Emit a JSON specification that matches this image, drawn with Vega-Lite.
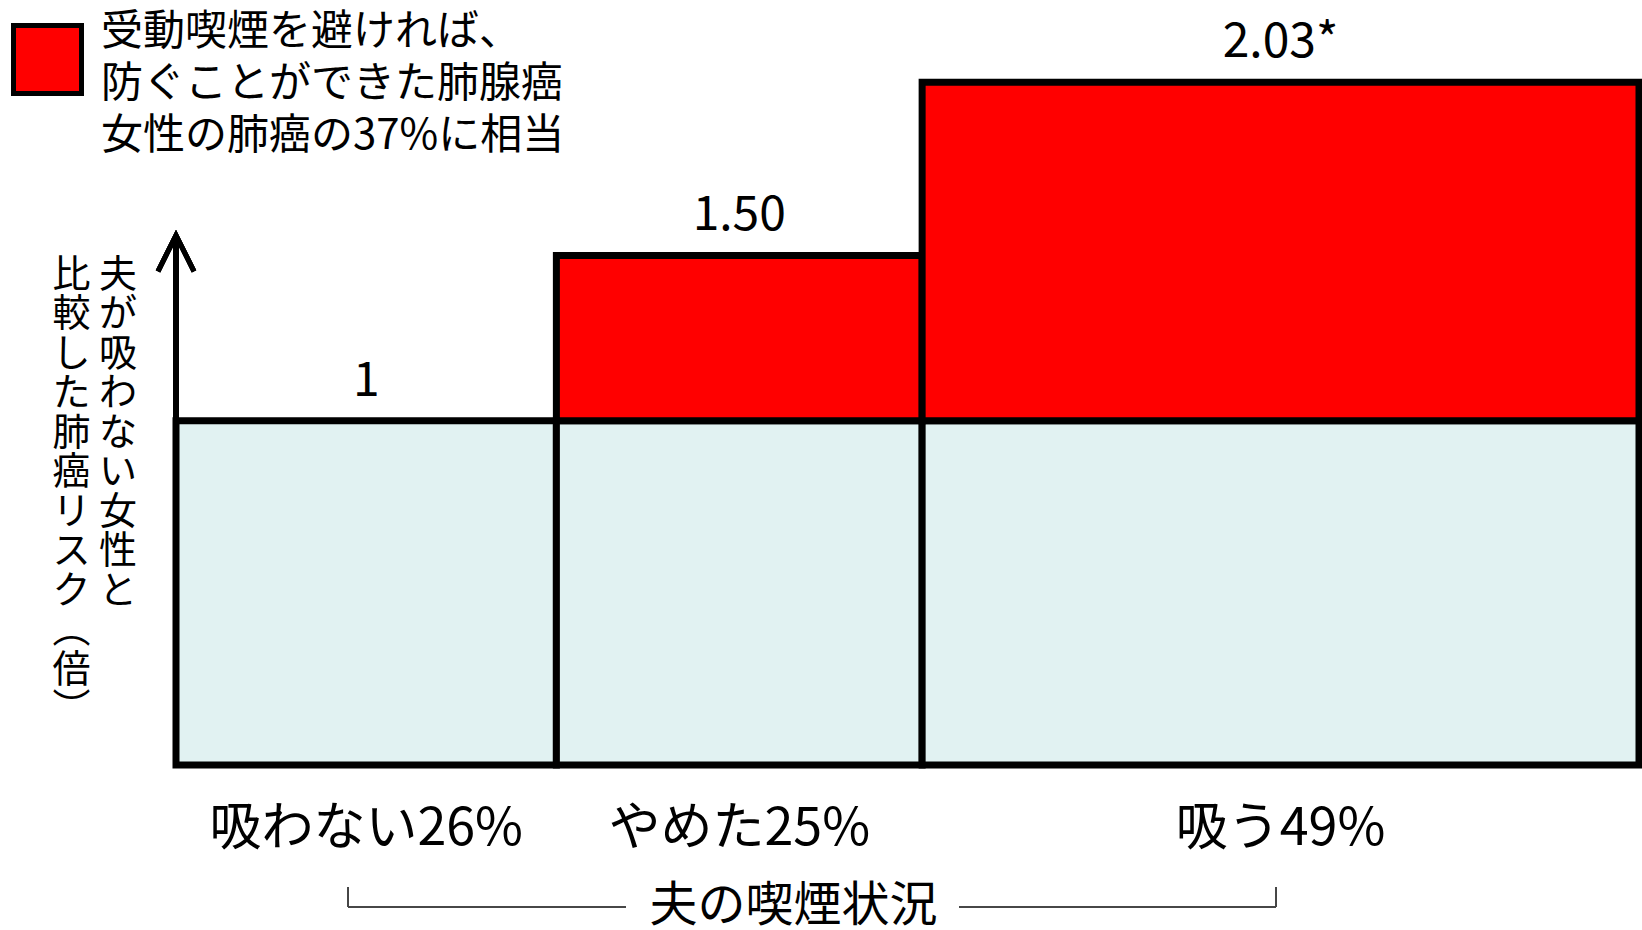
{
  "$schema": "https://vega.github.io/schema/vega-lite/v6.json",
  "width": 1463,
  "height": 738,
  "autosize": {"type": "none"},
  "padding": {"left": 176, "top": 27, "right": 3, "bottom": 165},
  "background": "white",
  "config": {
    "view": {"stroke": null},
    "font": "Noto Sans CJK JP"
  },
  "data": {"values": [
    {"status": "吸わない", "x0": 0, "x1": 26, "ref": 1, "risk": 1, "riskLabel": "1", "label": "吸わない26%", "area": "受動喫煙を避ければ、\n防ぐことができた肺腺癌\n女性の肺癌の37%に相当"},
    {"status": "やめた", "x0": 26, "x1": 51, "ref": 1, "risk": 1.5, "riskLabel": "1.50", "label": "やめた25%", "area": "受動喫煙を避ければ、\n防ぐことができた肺腺癌\n女性の肺癌の37%に相当"},
    {"status": "吸う", "x0": 51, "x1": 100, "ref": 1, "risk": 2.03, "riskLabel": "2.03*", "label": "吸う49%", "area": "受動喫煙を避ければ、\n防ぐことができた肺腺癌\n女性の肺癌の37%に相当"}
  ]},
  "layer": [
    {
      "mark": {"type": "rect", "fill": "#e1f2f2", "stroke": "black", "strokeWidth": 7, "strokeJoin": "miter"},
      "encoding": {
        "x": {"field": "x0", "type": "quantitative", "scale": {"domain": [0, 100], "nice": false, "zero": false},
              "axis": {"title": "夫の喫煙状況", "domain": false, "ticks": false, "labels": false, "grid": false, "titleColor": "black", "titleFontWeight": "normal", "titleFontSize": 48, "titleX": 617, "titleY": 141, "titleBaseline": "middle", "titleAlign": "center"}},
        "x2": {"field": "x1"},
        "y": {"field": "ref", "type": "quantitative", "scale": {"type": "pow", "exponent": 0.967, "domain": [0, 2.2], "nice": false},
              "axis": {"title": ["比    夫", "較    が", "し    吸", "た    わ", "肺    な", "癌    い", "リ    女", "ス    性", "ク    と", "︵", "倍", "︶"], "domain": false, "ticks": false, "labels": false, "grid": false, "titleColor": "black", "titleFontWeight": "normal", "titleAngle": 0, "titleX": -124, "titleY": 229, "titleBaseline": "top", "titleAlign": "left", "titleFontSize": 38, "titleLineHeight": 39.5}}
      }
    },
    {
      "transform": [{"filter": "datum.risk > 1"}],
      "mark": {"type": "rect", "stroke": "black", "strokeWidth": 7, "strokeJoin": "miter", "opacity": 1},
      "encoding": {
        "x": {"field": "x0", "type": "quantitative"},
        "x2": {"field": "x1"},
        "y": {"field": "risk", "type": "quantitative"},
        "y2": {"field": "ref"},
        "color": {"field": "area", "type": "nominal", "scale": {"range": ["#ff0000"]},
                  "legend": {"title": null, "orient": "none", "legendX": -165, "legendY": -4, "padding": 0,
                             "symbolType": "square", "symbolSize": 4624, "symbolStrokeColor": "black", "symbolStrokeWidth": 5, "symbolFillColor": "#ff0000", "symbolOpacity": 1,
                             "labelFontSize": 42, "labelLimit": 0, "labelOffset": 17, "labelColor": "black", "labelBaseline": "top",
                             "labelExpr": "split(datum.label, '\\n')",
                             "encode": {"labels": {"update": {"lineHeight": {"value": 52}, "dy": {"value": -48}}}}}}
      }
    },
    {
      "mark": {"type": "rule", "strokeWidth": 6, "strokeCap": "butt", "color": "black"},
      "encoding": {
        "x": {"datum": 0, "type": "quantitative"},
        "y": {"datum": 0, "type": "quantitative"},
        "y2": {"datum": 1.555}
      }
    },
    {
      "mark": {"type": "point", "shape": "M-1,1L0,-1L1,1", "size": 1296, "filled": false, "stroke": "black", "strokeWidth": 5, "strokeJoin": "miter", "opacity": 1},
      "encoding": {
        "x": {"datum": 0, "type": "quantitative"},
        "y": {"datum": 1.5065, "type": "quantitative"}
      }
    },
    {
      "transform": [{"calculate": "(datum.x0 + datum.x1) / 2", "as": "mid"}],
      "mark": {"type": "text", "fontSize": 48, "dy": -39, "baseline": "middle", "align": "center", "color": "black"},
      "encoding": {
        "x": {"field": "mid", "type": "quantitative"},
        "y": {"field": "risk", "type": "quantitative"},
        "text": {"field": "riskLabel", "type": "nominal"}
      }
    },
    {
      "transform": [{"calculate": "(datum.x0 + datum.x1) / 2", "as": "mid"}],
      "mark": {"type": "text", "fontSize": 52, "dy": 408, "baseline": "middle", "align": "center", "color": "black"},
      "encoding": {
        "x": {"field": "mid", "type": "quantitative"},
        "y": {"field": "ref", "type": "quantitative"},
        "text": {"field": "label", "type": "nominal"}
      }
    },
    {
      "mark": {"type": "rule", "strokeWidth": 1.5, "color": "#444444"},
      "encoding": {
        "x": {"datum": 11.76, "type": "quantitative"},
        "y": {"datum": -0.342, "type": "quantitative"},
        "y2": {"datum": -0.4}
      }
    },
    {
      "mark": {"type": "rule", "strokeWidth": 1.5, "color": "#444444"},
      "encoding": {
        "x": {"datum": 11.76, "type": "quantitative"},
        "x2": {"datum": 30.76},
        "y": {"datum": -0.4, "type": "quantitative"}
      }
    },
    {
      "mark": {"type": "rule", "strokeWidth": 1.5, "color": "#444444"},
      "encoding": {
        "x": {"datum": 53.52, "type": "quantitative"},
        "x2": {"datum": 75.19},
        "y": {"datum": -0.4, "type": "quantitative"}
      }
    },
    {
      "mark": {"type": "rule", "strokeWidth": 1.5, "color": "#444444"},
      "encoding": {
        "x": {"datum": 75.19, "type": "quantitative"},
        "y": {"datum": -0.342, "type": "quantitative"},
        "y2": {"datum": -0.4}
      }
    }
  ]
}
